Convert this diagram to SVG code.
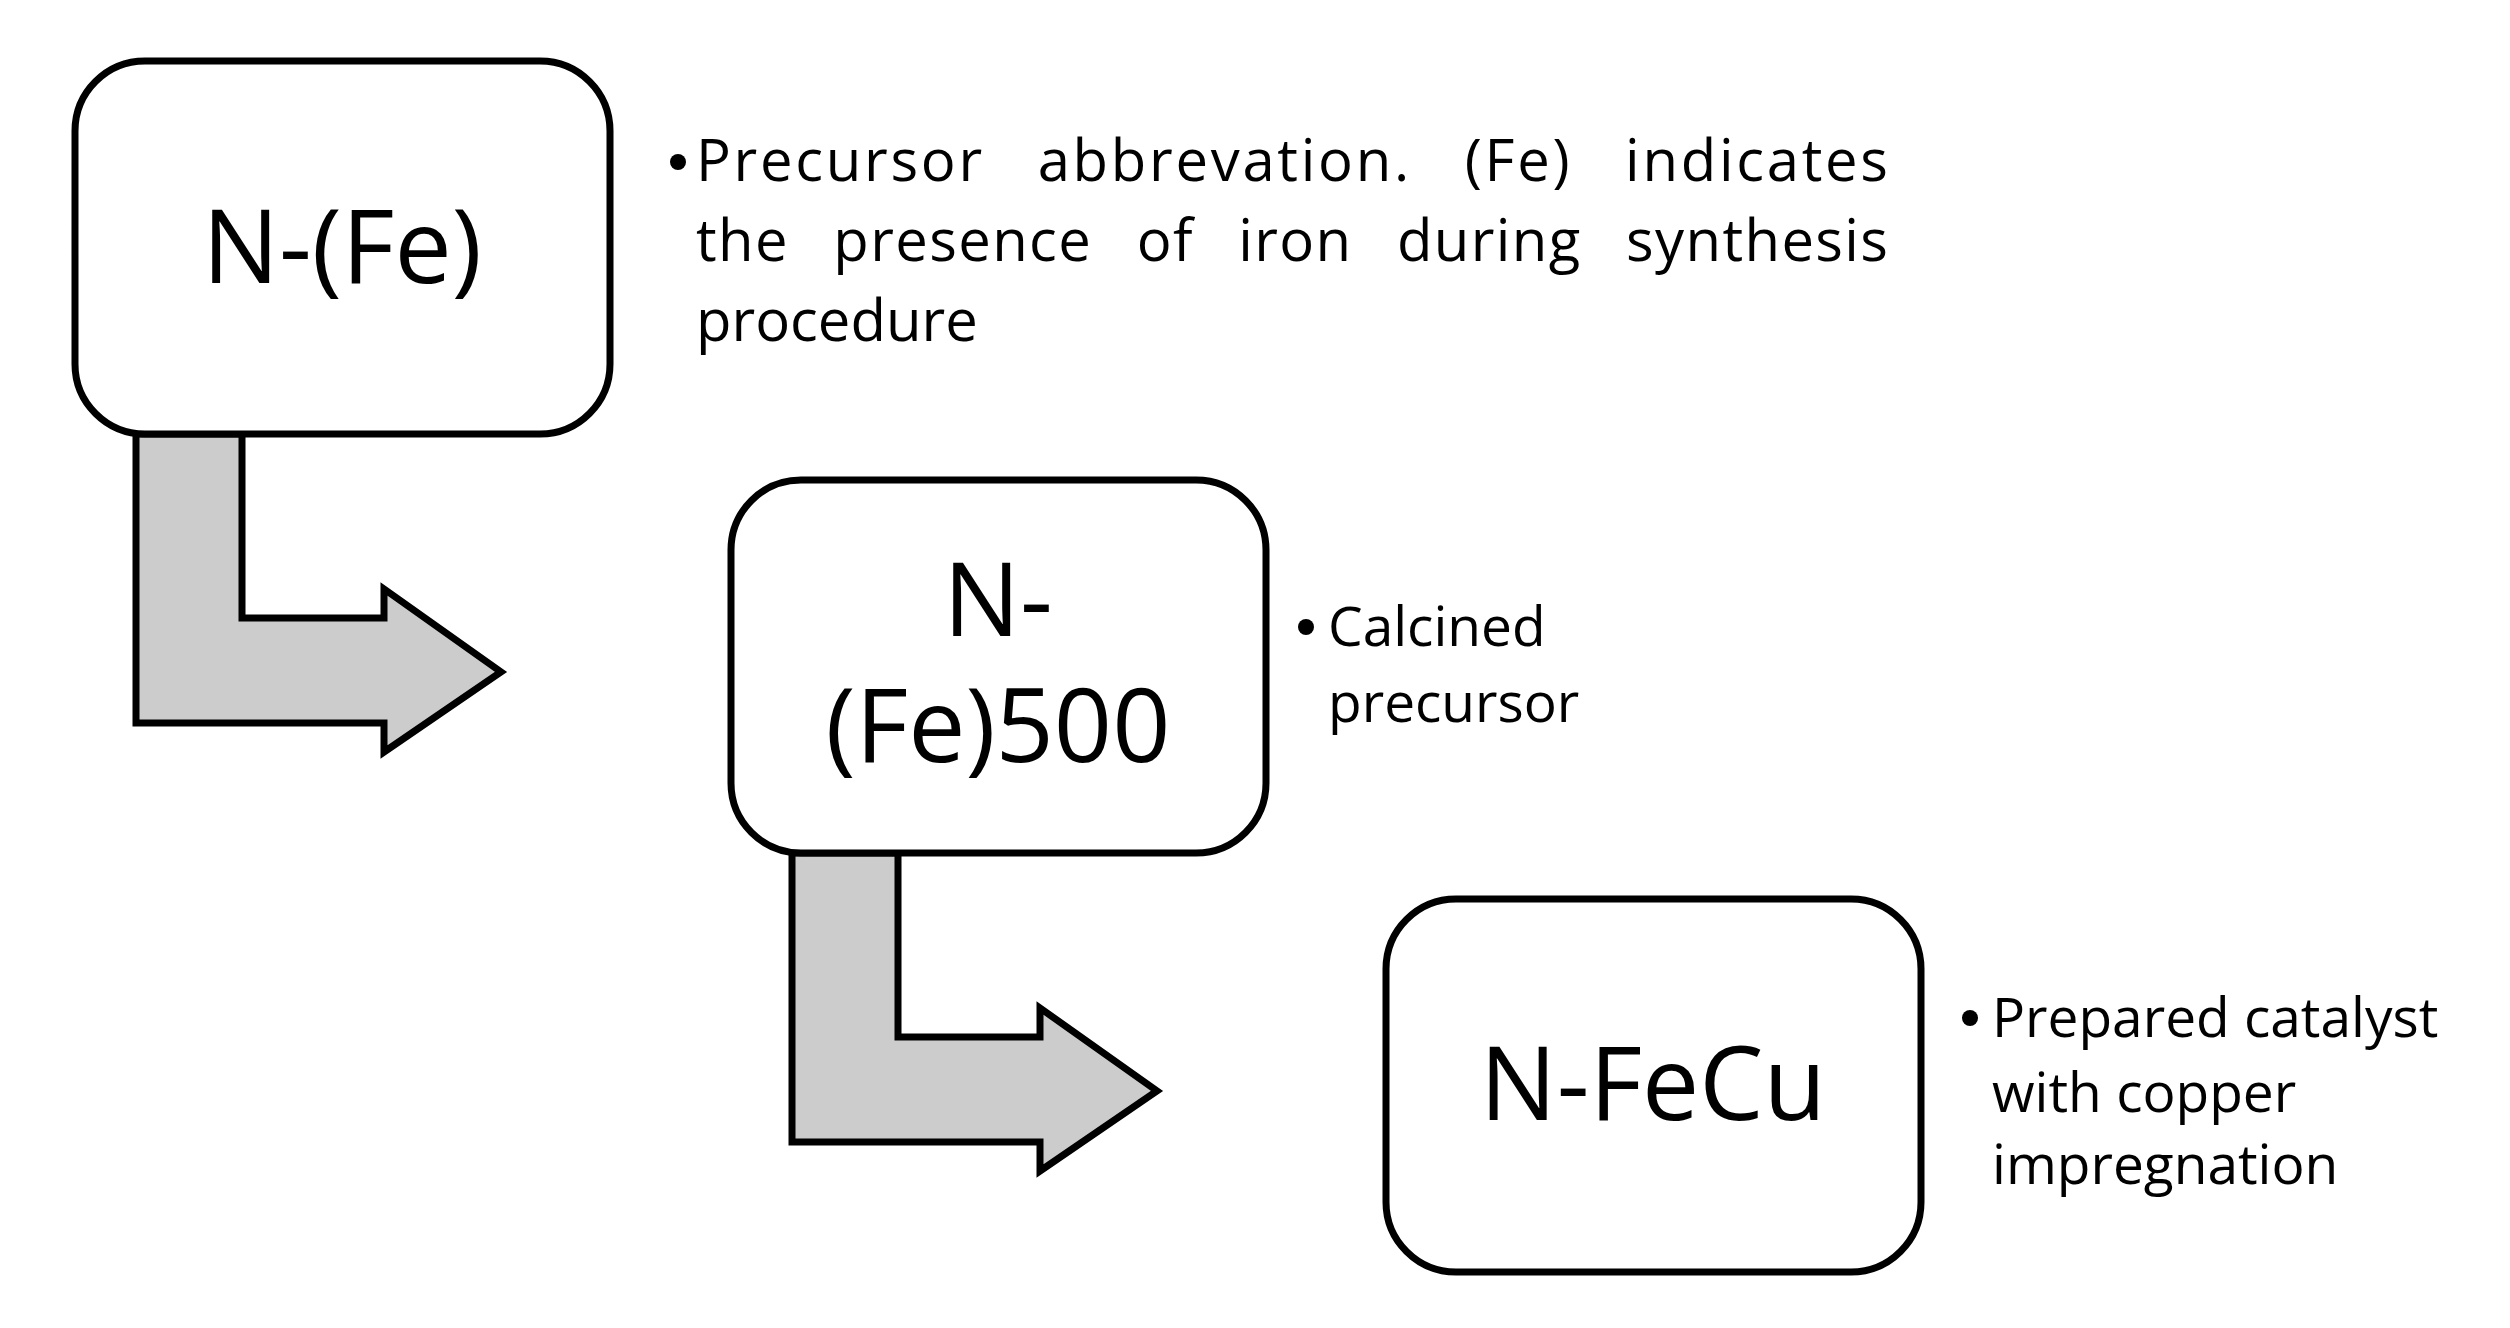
<svg xmlns="http://www.w3.org/2000/svg" width="2510" height="1328" viewBox="0 0 2510 1328">
<style>
.box{fill:#fff;stroke:#000;stroke-width:7}
.arr{fill:#cccccc;stroke:#000;stroke-width:7}
.big{font-family:"Open Sans","Noto Sans",sans-serif;font-size:102px;text-anchor:middle;fill:#000}
.t1{font-family:"Open Sans","Noto Sans",sans-serif;font-size:58px;fill:#000}
.t2{font-family:"Open Sans","Noto Sans",sans-serif;font-size:55px;fill:#000}
</style>
<rect width="2510" height="1328" fill="#fff"/>
<g id="connectors">
<polygon class="arr" points="136,434 242,434 242,618 384,618 384,589 501,672 384,752 384,723 136,723"/>
<polygon class="arr" points="792,853 898,853 898,1037 1040,1037 1040,1008 1157,1091 1040,1171 1040,1142 792,1142"/>
</g>
<g id="n1">
<rect class="box" x="75" y="61" width="535" height="373" rx="70"/>
<text class="big" x="342" y="283">N-(Fe)</text>
<circle cx="678" cy="162" r="8"/>
<text class="t1" x="696" y="181" word-spacing="35" textLength="1192" lengthAdjust="spacing">Precursor abbrevation. (Fe) indicates</text>
<text class="t1" x="696" y="261" word-spacing="28" textLength="1192" lengthAdjust="spacing">the presence of iron during synthesis</text>
<text class="t1" x="696" y="341">procedure</text>
</g>
<g id="n2">
<rect class="box" x="731" y="480" width="535" height="373" rx="70"/>
<text class="big" x="998" y="636">N-</text>
<text class="big" x="998" y="762">(Fe)500</text>
<circle cx="1306" cy="627" r="8"/>
<text class="t2" x="1328" y="646">Calcined</text>
<text class="t2" x="1328" y="722">precursor</text>
</g>
<g id="n3">
<rect class="box" x="1386" y="899" width="535" height="373" rx="70"/>
<text class="big" x="1653" y="1120">N-FeCu</text>
<circle cx="1970" cy="1018" r="8"/>
<text class="t2" x="1992" y="1037">Prepared catalyst</text>
<text class="t2" x="1992" y="1112">with copper</text>
<text class="t2" x="1992" y="1184">impregnation</text>
</g>
</svg>
